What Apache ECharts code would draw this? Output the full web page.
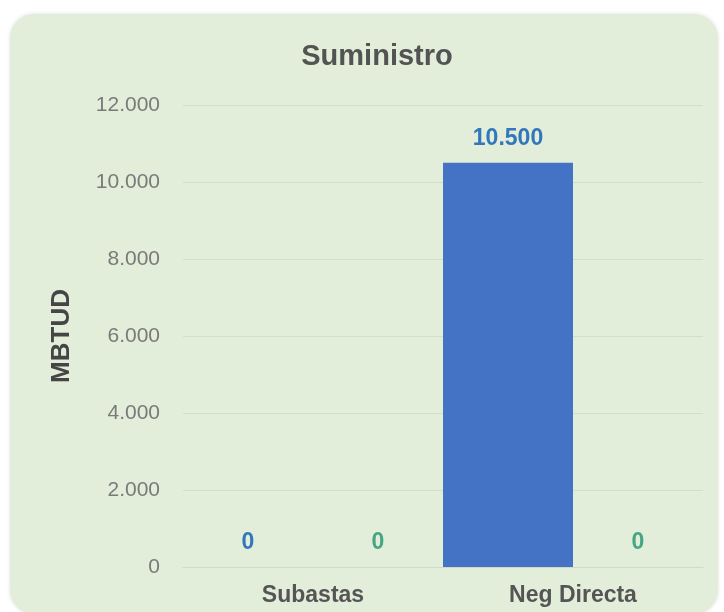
<!DOCTYPE html>
<html><head><meta charset="utf-8">
<script src="https://cdn.jsdelivr.net/npm/echarts@6/dist/echarts.min.js"></script>
<style>
html,body{margin:0;padding:0;background:#fff;width:724px;height:612px;overflow:hidden;}
#panel{position:absolute;left:10px;top:14px;width:708px;height:600px;background:#e2eed9;border-radius:24px;box-shadow:0 0 4px rgba(0,0,0,0.12);}
#chart{position:absolute;left:0;top:0;width:724px;height:612px;}
</style></head>
<body>
<div id="panel"></div>
<div id="chart"></div>
<script>
const title = 'Suministro';
const yAxisName = 'MBTUD';
const categories = ['Subastas', 'Neg Directa'];
const seriesA = [0, 10500];
const seriesB = [0, 0];
const yTicks = [0, 2000, 4000, 6000, 8000, 10000, 12000];

function fmt(v){ return String(v).replace(/\B(?=(\d{3})+(?!\d))/g, '.'); }

const chart = echarts.init(document.getElementById('chart'), null, {renderer:'canvas'});
chart.setOption({
  backgroundColor: 'transparent',
  title: {text: title, left: 372, textAlign: 'center', top: 37,
    textStyle: {fontFamily: 'Liberation Sans', fontSize: 29, fontWeight: 'bold', color: '#535353'}},
  grid: {left: 183, right: 21, top: 105, bottom: 45},
  xAxis: {type: 'category', data: categories,
    axisLine: {lineStyle: {color: '#cfdbc6'}}, axisTick: {show: false},
    axisLabel: {fontFamily: 'Liberation Sans', fontSize: 23, fontWeight: 'bold', color: '#555', margin: 17}},
  yAxis: {type: 'value', min: yTicks[0], max: yTicks[yTicks.length-1], interval: 2000,
    name: yAxisName, nameLocation: 'middle', nameGap: 108,
    nameTextStyle: {fontFamily: 'Liberation Sans', fontSize: 26, fontWeight: 'bold', color: '#454545'},
    axisLine: {show: false}, axisTick: {show: false},
    splitLine: {lineStyle: {color: '#d2dec9'}},
    axisLabel: {fontFamily: 'Liberation Sans', fontSize: 21, color: '#7a7a7a', margin: 23, formatter: fmt}},
  series: [
    {type: 'bar', data: seriesA, barGap: '0%', barCategoryGap: '0%',
     itemStyle: {color: '#4472c4'},
     label: {show: true, position: 'top', distance: 13, formatter: p => fmt(p.value),
       fontFamily: 'Liberation Sans', fontSize: 23, fontWeight: 'bold', color: '#3277bb'}},
    {type: 'bar', data: seriesB,
     itemStyle: {color: '#3fa784'},
     label: {show: true, position: 'top', distance: 13, formatter: p => fmt(p.value),
       fontFamily: 'Liberation Sans', fontSize: 23, fontWeight: 'bold', color: '#45a584'}}
  ]
});
</script>
</body></html>
